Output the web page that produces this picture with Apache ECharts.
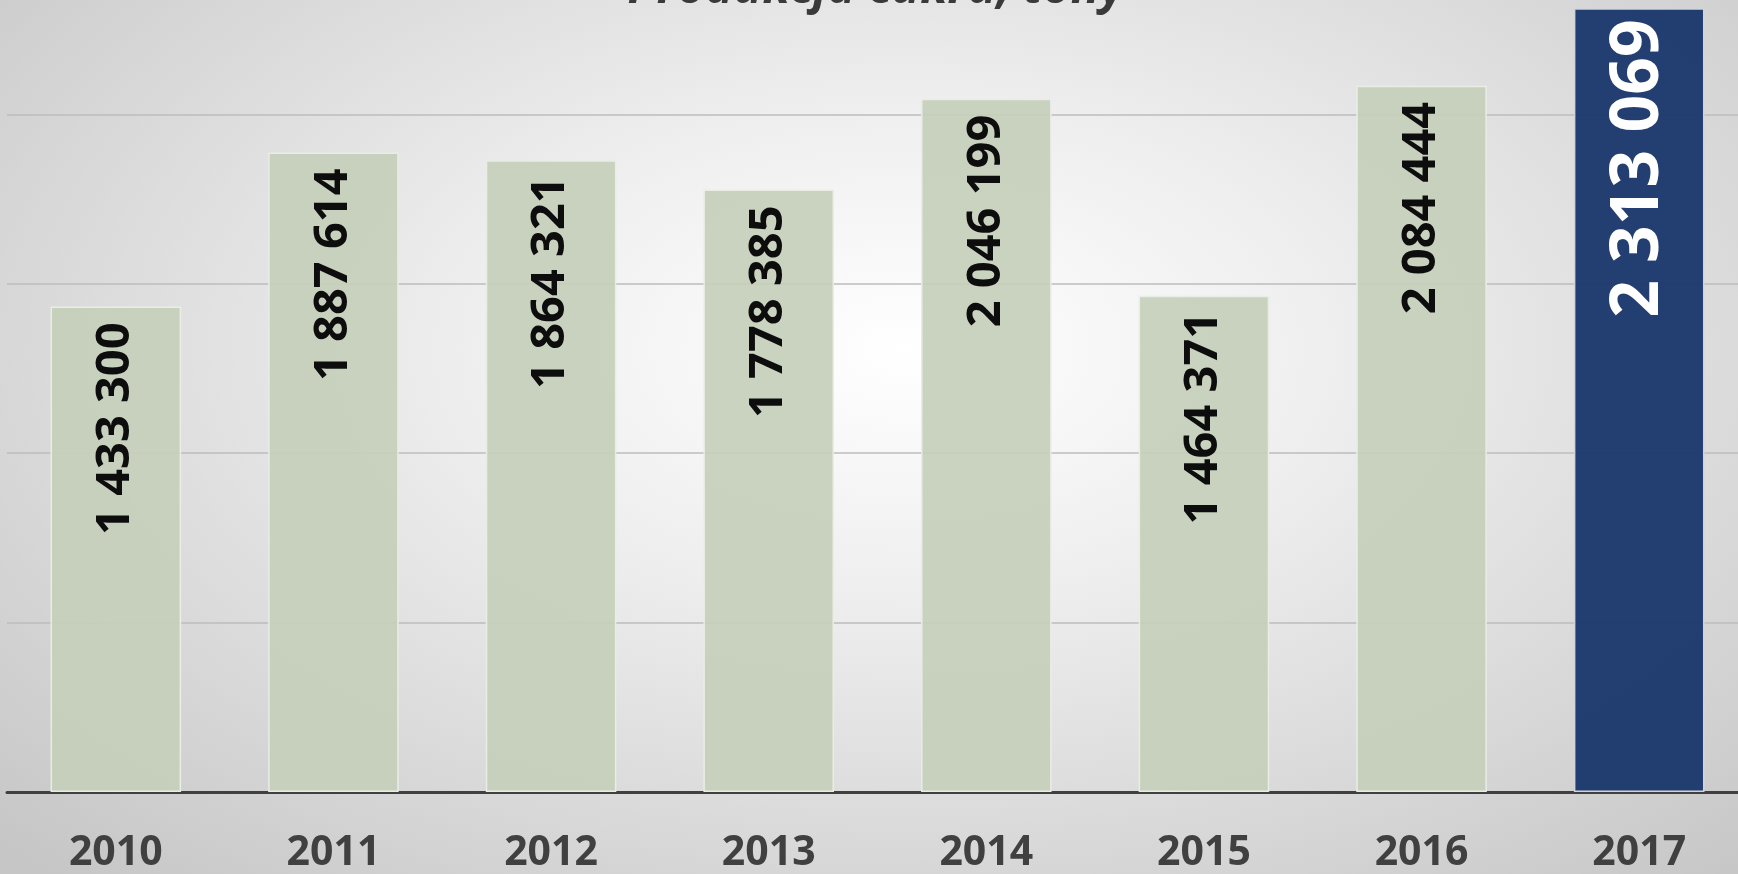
<!DOCTYPE html>
<html>
<head>
<meta charset="utf-8">
<title>Produkcja cukru, tony</title>
<script src="https://cdn.jsdelivr.net/npm/echarts@6/dist/echarts.min.js"></script>
<style>
    html, body {
        margin: 0;
        padding: 0;
        width: 100%;
        height: 100%;
        overflow: hidden;
    }
    body {
        position: relative;
        background: radial-gradient(ellipse 72% 82% at 52% 40%, #ffffff 0%, #eeeeee 35%, #c6c6c6 100%);
    }
    /* the source picture is cropped: the plot runs past the top and right edges */
    #echartContainer {
        position: absolute;
        left: 0;
        top: -55px;
        width: 1748px;
        height: 929px;
    }
</style>
</head>
<body>
<div id="echartContainer"></div>
<script>
var years = ['2010', '2011', '2012', '2013', '2014', '2015', '2016', '2017'];
var production = [1433300, 1887614, 1864321, 1778385, 2046199, 1464371, 2084444, 2313069];
var highlightYear = '2017';
var yTicks = { min: 0, max: 2500000, interval: 500000 };

(function () {
    "use strict";

    var chart = echarts.init(document.getElementById('echartContainer'));

    // spaces as thousands separator, like the source
    var fmt = function (v) {
        return String(v).replace(/\B(?=(\d{3})+(?!\d))/g, ' ');
    };

    var barData = years.map(function (y, i) {
        var item = { value: production[i] };
        if (y === highlightYear) {
            item.itemStyle = { color: 'rgba(31, 58, 110, 0.98)', borderColor: '#d0d4da' };
            item.label = {
                color: '#ffffff',
                fontSize: 66,
                distance: 15,
                offset: [4, 0]
            };
        }
        return item;
    });

    var option = {
        backgroundColor: 'transparent',
        animation: false,
        graphic: [{
            type: 'text',
            x: 876,
            y: 44,
            style: {
                text: 'Produkcja cukru, tony',
                font: 'italic bold 48px "Open Sans"',
                fill: '#3a3a3a',
                align: 'center',
                verticalAlign: 'middle'
            }
        }],
        grid: {
            left: 7,
            right: 0,
            top: 0,
            bottom: 82,
            outerBoundsMode: 'none'
        },
        xAxis: {
            type: 'category',
            data: years,
            axisTick: { show: false },
            axisLine: {
                lineStyle: { color: '#404040', width: 3 }
            },
            axisLabel: {
                color: '#404040',
                fontFamily: 'Open Sans',
                fontWeight: 'bold',
                fontSize: 41,
                margin: 41
            }
        },
        yAxis: {
            type: 'value',
            min: yTicks.min,
            max: yTicks.max,
            interval: yTicks.interval,
            axisLabel: { show: false },
            axisLine: { show: false },
            axisTick: { show: false },
            splitLine: {
                lineStyle: { color: '#bcbcbc', width: 1.5 }
            }
        },
        series: [{
            type: 'bar',
            data: barData,
            barCategoryGap: '40%',
            itemStyle: {
                color: 'rgba(196, 207, 186, 0.92)',
                borderColor: '#e9ede5',
                borderWidth: 1.5
            },
            label: {
                show: true,
                position: 'insideTop',
                rotate: 90,
                align: 'right',
                verticalAlign: 'middle',
                distance: 16,
                color: '#0d0d0d',
                fontFamily: 'Open Sans',
                fontWeight: 'bold',
                fontSize: 47,
                formatter: function (p) {
                    return fmt(p.value);
                }
            }
        }]
    };

    chart.setOption(option);
})();
</script>
</body>
</html>
